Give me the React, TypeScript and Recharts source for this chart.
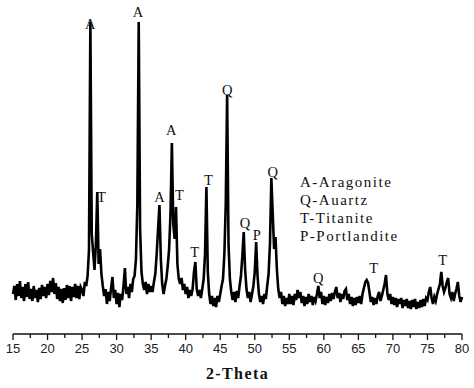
import React from 'react';
import { LineChart, Line, XAxis, YAxis, ReferenceDot } from 'recharts';

// XRD scan, 2-theta from 15 to 80 at a 0.2 degree step, intensities
const START_ANGLE = 15;
const STEP = 0.2;

const counts15to25 = [
  40, 48, 34, 50, 38, 53, 36, 47, 33, 50,
  37, 52, 35, 45, 33, 48, 36, 44, 32, 46,
  35, 49, 38, 47, 36, 50, 39, 53, 42, 56,
  40, 51, 35, 47, 33, 45, 31, 46, 34, 49,
  36, 48, 33, 47, 37, 50, 36, 48, 35, 47,
];
const counts25to35 = [
  44, 38, 52, 48, 58, 84, 312, 100, 82, 64,
  90, 142, 70, 85, 60, 48, 38, 45, 30, 42,
  33, 46, 57, 36, 44, 30, 41, 27, 40, 34,
  48, 66, 40, 47, 36, 50, 42, 55, 58, 75,
  130, 312, 105, 62, 50, 44, 52, 40, 50, 42,
];
const counts35to45 = [
  48, 42, 52, 60, 80, 105, 129, 75, 50, 40,
  48, 55, 68, 85, 120, 191, 110, 95, 127, 70,
  55, 50, 56, 44, 50, 40, 47, 36, 44, 38,
  45, 62, 72, 45, 38, 44, 36, 45, 55, 80,
  147, 62, 40, 30, 38, 28, 36, 27, 38, 32,
];
const counts45to55 = [
  40, 48, 55, 80, 130, 239, 90, 55, 42, 34,
  42, 32, 43, 36, 48, 58, 78, 102, 65, 45,
  36, 42, 32, 40, 48, 62, 92, 58, 40, 32,
  38, 30, 40, 35, 48, 60, 90, 156, 120, 85,
  97, 65, 45, 36, 42, 30, 38, 28, 36, 30,
];
const counts55to65 = [
  40, 30, 38, 29, 40, 34, 44, 36, 42, 31,
  38, 28, 37, 30, 40, 32, 38, 29, 37, 33,
  40, 48, 36, 42, 30, 38, 29, 37, 31, 40,
  33, 41, 35, 42, 47, 36, 41, 32, 40, 35,
  43, 45, 34, 40, 30, 37, 28, 36, 29, 37,
];
const counts65to75 = [
  31, 38, 30, 40, 46, 52, 54, 51, 42, 32,
  37, 29, 36, 30, 38, 42, 33, 38, 44, 50,
  59, 40, 34, 40, 30, 37, 29, 36, 27, 35,
  30, 36, 26, 34, 28, 35, 26, 33, 25, 34,
  27, 35, 25, 32, 26, 34, 27, 35, 28, 36,
];
const counts75to80 = [
  34, 42, 47, 36, 30, 37, 33, 40, 45, 50,
  62, 48, 42, 46, 52, 56, 40, 36, 42, 33,
  40, 45, 52, 38, 32, 37,
];

const xTicks = [
  15, 17.5, 20, 22.5, 25, 27.5, 30, 32.5, 35, 37.5, 40, 42.5, 45,
  47.5, 50, 52.5, 55, 57.5, 60, 62.5, 65, 67.5, 70, 72.5, 75, 77.5, 80,
];

// phase letters over the peaks: angle, height of the letter
const peakLabels: { theta: number; level: number; phase: string }[] = [
  { theta: 26.2, level: 310, phase: 'A' },
  { theta: 33.1, level: 322, phase: 'A' },
  { theta: 27.8, level: 137, phase: 'T' },
  { theta: 36.2, level: 137, phase: 'A' },
  { theta: 37.9, level: 204, phase: 'A' },
  { theta: 39.1, level: 139, phase: 'T' },
  { theta: 41.3, level: 82, phase: 'T' },
  { theta: 43.3, level: 154, phase: 'T' },
  { theta: 46.0, level: 244, phase: 'Q' },
  { theta: 48.6, level: 111, phase: 'Q' },
  { theta: 50.3, level: 99, phase: 'P' },
  { theta: 52.6, level: 162, phase: 'Q' },
  { theta: 59.2, level: 56, phase: 'Q' },
  { theta: 67.2, level: 66, phase: 'T' },
  { theta: 77.2, level: 74, phase: 'T' },
];

const legendLines = ['A-Aragonite', 'Q-Auartz', 'T-Titanite', 'P-Portlandite'];

const intensities = [
  ...counts15to25,
  ...counts25to35,
  ...counts35to45,
  ...counts45to55,
  ...counts55to65,
  ...counts65to75,
  ...counts75to80,
];

const data = intensities.map((v, i) => ({
  theta: Math.round((START_ANGLE + i * STEP) * 10) / 10,
  counts: v,
}));

const serif = '"Liberation Serif", "Times New Roman", serif';

const AxisTick = (props: any) => {
  const { x, y, payload } = props;
  const major = payload.value % 5 === 0;
  return (
    <g>
      <line x1={x} x2={x} y1={y} y2={y + (major ? 6 : 4)} stroke="#111" strokeWidth={1.3} />
      {major && (
        <text
          x={x}
          y={y + 14}
          textAnchor="middle"
          dominantBaseline="central"
          fill="#222"
          fontSize={13}
          fontFamily='"Liberation Sans", Arial, sans-serif'
        >
          {payload.value}
        </text>
      )}
    </g>
  );
};

const App: React.FC = () => {
  return (
    <div style={{ position: 'absolute', left: 0, top: 0, width: 474, height: 388, background: '#fff' }}>
      <LineChart width={474} height={388} data={data} margin={{ top: 5, right: 12, left: 13, bottom: 0 }}>
        <XAxis
          dataKey="theta"
          type="number"
          domain={[15, 80]}
          ticks={xTicks}
          interval={0}
          tickSize={0}
          tickMargin={0}
          tickLine={false}
          tick={<AxisTick />}
          axisLine={{ stroke: '#111', strokeWidth: 1.5 }}
          height={54}
          label={{
            value: '2-Theta',
            position: 'insideBottom',
            offset: 9,
            fill: '#111',
            fontSize: 16,
            fontWeight: 'bold',
            fontFamily: serif,
            letterSpacing: 1.4,
          }}
        />
        <YAxis hide domain={[0, 329]} />
        <Line
          type="linear"
          dataKey="counts"
          stroke="#000"
          strokeWidth={2.6}
          strokeLinejoin="miter"
          dot={false}
          isAnimationActive={false}
        />
        {peakLabels.map((p, i) => (
          <ReferenceDot
            key={i}
            x={p.theta}
            y={p.level}
            r={0}
            fill="none"
            stroke="none"
            ifOverflow="visible"
            label={{ value: p.phase, position: 'center', fill: '#111', fontSize: 14.5, fontFamily: serif }}
          />
        ))}
      </LineChart>
      <div
        style={{
          position: 'absolute',
          left: 300,
          top: 173,
          fontFamily: serif,
          fontSize: 15,
          lineHeight: '18px',
          letterSpacing: 1.5,
          color: '#111',
        }}
      >
        {legendLines.map((t) => (
          <div key={t}>{t}</div>
        ))}
      </div>
    </div>
  );
};

export default App;
